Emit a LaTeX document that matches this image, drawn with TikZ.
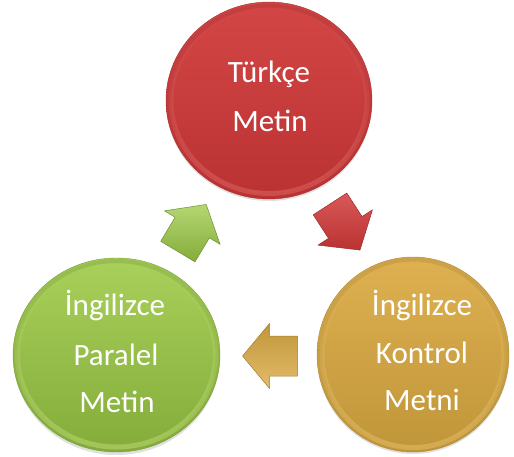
\documentclass[tikz,border=0pt]{standalone}
\usepackage{fontspec}
\setmainfont{Carlito}
\usetikzlibrary{shapes.geometric,fadings}
\begin{document}
\begin{tikzpicture}[x=1pt,y=-1pt,
  orb/.style n args={2}{ellipse, inner sep=0pt, top color=#1, bottom color=#2,
    draw=#2!90!black, line width=0.4pt},
  orbshadow/.style={fill=black, opacity=0.12},
  rimlight/.style={draw=#1, line width=5pt, opacity=0.4, path fading=north},
  rimdark/.style={draw=#1, line width=4pt, opacity=0.2, path fading=south},
  txt/.style={text=white, font=\fontsize{31}{31}\selectfont, anchor=base, inner sep=0pt},
  pics/blockarrow/.style n args={3}{code={
    \shade[top color=#1, bottom color=#2, draw=#3, line width=0.5pt, line join=round]
      (-27.5pt,-20pt) -- (0.5pt,-20pt) -- (0.5pt,-32.5pt) -- (27.5pt,0pt)
      -- (0.5pt,32.5pt) -- (0.5pt,20pt) -- (-27.5pt,20pt) -- cycle;
  }}]
\useasboundingbox (0,0) rectangle (514,457);

% colours
\definecolor{redtop}{RGB}{212,70,70}
\definecolor{redbot}{RGB}{186,50,50}
\definecolor{redrim}{RGB}{236,120,120}
\definecolor{greentop}{RGB}{168,208,90}
\definecolor{greenbot}{RGB}{132,172,58}
\definecolor{greenrim}{RGB}{210,236,140}
\definecolor{goldtop}{RGB}{222,176,80}
\definecolor{goldbot}{RGB}{192,150,58}
\definecolor{goldrim}{RGB}{242,205,120}

% soft shadows under the discs
\fill[orbshadow] (269,103) ellipse [x radius=103pt, y radius=98pt];
\fill[orbshadow] (116.5,358) ellipse [x radius=103pt, y radius=97pt];
\fill[orbshadow] (413,357) ellipse [x radius=96pt, y radius=97pt];

% discs
\node[orb={redtop}{redbot}, minimum width=206pt, minimum height=197pt] (tr) at (269,100.5) {};
\node[orb={greentop}{greenbot}, minimum width=207pt, minimum height=194pt] (par) at (116.5,355) {};
\node[orb={goldtop}{goldbot}, minimum width=192pt, minimum height=195pt] (ctl) at (413,354.5) {};

% bevel rims
\draw[rimlight=redrim] (tr.center) ellipse [x radius=98pt, y radius=93pt];
\draw[rimdark=redbot!70!black] (tr.center) ellipse [x radius=100pt, y radius=95pt];
\draw[rimlight=greenrim] (par.center) ellipse [x radius=99pt, y radius=92pt];
\draw[rimdark=greenbot!70!black] (par.center) ellipse [x radius=101pt, y radius=94pt];
\draw[rimlight=goldrim] (ctl.center) ellipse [x radius=91pt, y radius=93pt];
\draw[rimdark=goldbot!70!black] (ctl.center) ellipse [x radius=93pt, y radius=95pt];

% labels
\node[txt] (tr1) at (269,83) {Türkçe};
\node[txt] (tr2) at (270,132) {Metin};
\node[txt] (par1) at (115,315) {İngilizce};
\node[txt] (par2) at (116,365) {Paralel};
\node[txt] (par3) at (117,412) {Metin};
\node[txt] (ctl1) at (422,315) {İngilizce};
\node[txt] (ctl2) at (422,363) {Kontrol};
\node[txt] (ctl3) at (422,410) {Metni};

% cycle arrows
\pic[rotate=-57] (arrA) at (345,227) {blockarrow={redtop!90!white}{redbot}{redbot!85!black}};
\pic[rotate=180] (arrB) at (270,356) {blockarrow={goldbot}{goldtop!85!white}{goldbot!85!black}};
\pic[rotate=59] (arrC) at (192,228) {blockarrow={greentop!85!white}{greenbot}{greenbot!85!black}};
\end{tikzpicture}
\end{document}
